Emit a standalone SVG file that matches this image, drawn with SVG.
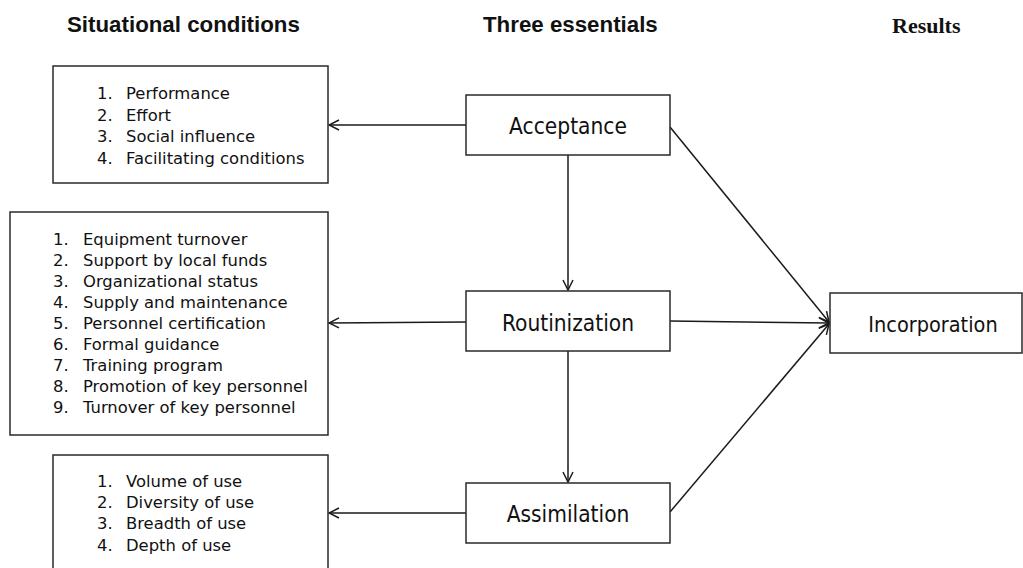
<svg xmlns="http://www.w3.org/2000/svg" width="1023" height="568" viewBox="0 0 1023 568">
<style>
.box{fill:#fff;stroke:#2a2a2a;stroke-width:1.5}
.lbl{font-family:"DejaVu Sans Condensed","DejaVu Sans",sans-serif;font-stretch:condensed;font-size:22.5px;fill:#111;text-anchor:middle}
.lst{font-family:"DejaVu Sans",sans-serif;font-size:16.4px;fill:#111}
.hdr{font-family:"Liberation Sans",Arial,sans-serif;font-weight:bold;font-size:22.3px;fill:#111}
.res{font-family:"Liberation Serif","Times New Roman",serif;font-weight:bold;font-size:22px;fill:#111}
.con{stroke:#1a1a1a;stroke-width:1.5;fill:none;marker-end:url(#arr)}
</style>
<defs>
<marker id="arr" viewBox="0 0 12 12" refX="11" refY="6" markerWidth="12" markerHeight="12" markerUnits="userSpaceOnUse" orient="auto">
<path d="M1,1 L11,6 L1,11" fill="none" stroke="#1a1a1a" stroke-width="1.5"/>
</marker>
</defs>
<rect width="1023" height="568" fill="#fff"/>
<g id="headers">
<text class="hdr" x="67" y="32">Situational conditions</text>
<text class="hdr" x="483" y="32">Three essentials</text>
<text class="res" x="892" y="33">Results</text>
</g>
<g id="connectors">
<line class="con" x1="466" y1="125" x2="329" y2="125"/>
<line class="con" x1="466" y1="322" x2="329" y2="323"/>
<line class="con" x1="466" y1="513" x2="329" y2="513"/>
<line class="con" x1="568" y1="155" x2="568" y2="290"/>
<line class="con" x1="568" y1="351" x2="568" y2="482"/>
<line class="con" x1="670" y1="127" x2="829" y2="322"/>
<line class="con" x1="670" y1="321" x2="829" y2="323"/>
<line class="con" x1="670" y1="512" x2="829" y2="324"/>
</g>
<g id="node-situational-acceptance">
<rect class="box" x="53" y="66" width="275" height="117"/>
<text class="lst" x="97" y="99">1.</text><text class="lst" x="126" y="99">Performance</text>
<text class="lst" x="97" y="120.5">2.</text><text class="lst" x="126" y="120.5">Effort</text>
<text class="lst" x="97" y="142">3.</text><text class="lst" x="126" y="142">Social influence</text>
<text class="lst" x="97" y="163.5">4.</text><text class="lst" x="126" y="163.5">Facilitating conditions</text>
</g>
<g id="node-situational-routinization">
<rect class="box" x="10" y="212" width="318" height="223"/>
<text class="lst" x="53" y="245">1.</text><text class="lst" x="83" y="245">Equipment turnover</text>
<text class="lst" x="53" y="266">2.</text><text class="lst" x="83" y="266">Support by local funds</text>
<text class="lst" x="53" y="287">3.</text><text class="lst" x="83" y="287">Organizational status</text>
<text class="lst" x="53" y="308">4.</text><text class="lst" x="83" y="308">Supply and maintenance</text>
<text class="lst" x="53" y="329">5.</text><text class="lst" x="83" y="329">Personnel certification</text>
<text class="lst" x="53" y="350">6.</text><text class="lst" x="83" y="350">Formal guidance</text>
<text class="lst" x="53" y="371">7.</text><text class="lst" x="83" y="371">Training program</text>
<text class="lst" x="53" y="392">8.</text><text class="lst" x="83" y="392">Promotion of key personnel</text>
<text class="lst" x="53" y="413">9.</text><text class="lst" x="83" y="413">Turnover of key personnel</text>
</g>
<g id="node-situational-assimilation">
<rect class="box" x="53" y="455" width="275" height="120"/>
<text class="lst" x="97" y="487">1.</text><text class="lst" x="126" y="487">Volume of use</text>
<text class="lst" x="97" y="508">2.</text><text class="lst" x="126" y="508">Diversity of use</text>
<text class="lst" x="97" y="529">3.</text><text class="lst" x="126" y="529">Breadth of use</text>
<text class="lst" x="97" y="551">4.</text><text class="lst" x="126" y="551">Depth of use</text>
</g>
<g id="node-acceptance">
<rect class="box" x="466" y="95" width="204" height="60"/>
<text class="lbl" x="568" y="134">Acceptance</text>
</g>
<g id="node-routinization">
<rect class="box" x="466" y="291" width="204" height="60"/>
<text class="lbl" x="568" y="331">Routinization</text>
</g>
<g id="node-assimilation">
<rect class="box" x="466" y="483" width="204" height="60"/>
<text class="lbl" x="568" y="522">Assimilation</text>
</g>
<g id="node-incorporation">
<rect class="box" x="830" y="293" width="192" height="60"/>
<text class="lbl" x="933" y="332" style="font-size:21.5px">Incorporation</text>
</g>
</svg>
